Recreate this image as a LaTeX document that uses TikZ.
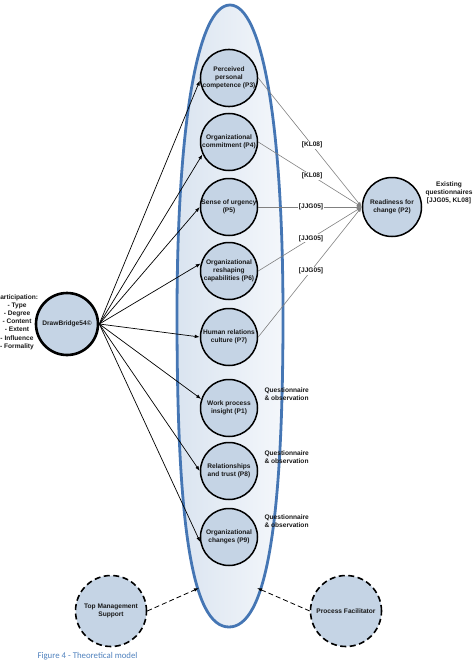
\documentclass[tikz,border=0pt]{standalone}
\usepackage{fontspec}
\setmainfont{Liberation Sans}
\newfontfamily\capfont{Carlito}
\usetikzlibrary{arrows.meta}
\definecolor{ovalblue}{HTML}{4576B4}
\definecolor{circfill}{HTML}{C5D4E5}
\definecolor{ovalL}{HTML}{DAE4F0}
\definecolor{ovalR}{HTML}{F4F7FB}
\definecolor{capblue}{HTML}{4F81BD}
\definecolor{linegray}{HTML}{808080}
\begin{document}
\begin{tikzpicture}[x=1pt,y=-1pt,
  every node/.style={font=\fontsize{6.6}{7.8}\selectfont\bfseries, align=center, text=black!90},
  pnode/.style={circle, draw=black, line width=1.5pt, fill=circfill, minimum size=57pt, inner sep=0pt},
  bignode/.style={circle, draw=black, line width=2.6pt, fill=circfill, minimum size=62pt, inner sep=0pt},
  dashnode/.style={circle, draw=black, line width=1.6pt, dash pattern=on 6pt off 3.5pt, fill=circfill, minimum size=71pt, inner sep=0pt},
  blackarr/.style={draw=black, line width=0.7pt, -{Latex[length=5pt,width=3.6pt]}},
  grayarr/.style={draw=linegray, line width=0.6pt, -{Latex[length=5pt,width=4pt]}},
  dasharr/.style={draw=black, line width=0.8pt, dash pattern=on 5pt off 3pt, -{Latex[length=5pt,width=3.6pt]}},
  lbl/.style={fill=white, inner sep=1pt},
  sidetxt/.style={align=left, anchor=west, font=\fontsize{6.6}{8}\selectfont\bfseries}
]
\useasboundingbox (0,0) rectangle (473,661);

% big oval
\path[draw=ovalblue, line width=2.8pt, left color=ovalL, right color=ovalR]
  (230,5) .. controls (262,5) and (283,123) .. (283,316)
  .. controls (283,525) and (266,627) .. (229,627)
  .. controls (192,627) and (177,525) .. (177,316)
  .. controls (177,123) and (198,5) .. (230,5) -- cycle;

% inner concept circles
\node[pnode] (P3) at (229,78) {Perceived\\personal\\competence (P3)};
\node[pnode] (P4) at (229,142) {Organizational\\commitment (P4)};
\node[pnode] (P5) at (229,207) {Sense of urgency\\(P5)};
\node[pnode] (P6) at (229,271) {Organizational\\reshaping\\capabilities (P6)};
\node[pnode] (P7) at (229,337) {Human relations\\culture (P7)};
\node[pnode] (P1) at (229,408) {Work process\\insight (P1)};
\node[pnode] (P8) at (229,471) {Relationships\\and trust (P8)};
\node[pnode] (P9) at (229,537) {Organizational\\changes (P9)};

% readiness
\node[pnode, minimum size=59pt] (R) at (392,207) {Readiness for\\change (P2)};
\node (EQ) at (449,193) {Existing\\questionnaires\\{[JJG05, KL08]}};

% DrawBridge
\node[bignode] (D) at (67,324) {DrawBridge54©};
\node[font=\fontsize{6.6}{8.2}\selectfont\bfseries] (PT) at (17,322) {Participation:\\- Type\\- Degree\\- Content\\- Extent\\- Influence\\- Formality};

% bottom dashed
\node[dashnode] (TM) at (111,611) {Top Management\\Support};
\node[dashnode] (PF) at (346,611) {Process Facilitator};
\coordinate (TMend) at (199,588);
\coordinate (PFend) at (257,588);

% arrows from DrawBridge
\draw[blackarr] (D.east) -- (P3.185);
\draw[blackarr] (D.east) -- (P4.205);
\draw[blackarr] (D.east) -- (P5.180);
\draw[blackarr] (D.east) -- (P6.165);
\draw[blackarr] (D.east) -- (P7.180);
\draw[blackarr] (D.east) -- (P1.162);
\draw[blackarr] (D.east) -- (P8.180);
\draw[blackarr] (D.east) -- (P9.190);

% arrows to readiness
\draw[grayarr] (P3.east) -- node[lbl, pos=0.52] {[KL08]} (R.west);
\draw[grayarr] (P4.east) -- node[lbl, pos=0.52] {[KL08]} (R.west);
\draw[grayarr] (P5.east) -- node[lbl, pos=0.51] {[JJG05]} (R.west);
\draw[grayarr] (P6.east) -- node[lbl, pos=0.51] {[JJG05]} (R.west);
\draw[grayarr] (P7.east) -- node[lbl, pos=0.51] {[JJG05]} (R.west);

% questionnaire labels
\node[sidetxt] (Q1) at (261,394) {Questionnaire\\\& observation};
\node[sidetxt] (Q2) at (261,457) {Questionnaire\\\& observation};
\node[sidetxt] (Q3) at (261,521) {Questionnaire\\\& observation};

% dashed arrows
\draw[dasharr] (TM.east) -- (TMend);
\draw[dasharr] (PF.west) -- (PFend);

% caption
\node[anchor=west, font=\capfont\fontsize{8.8}{10}\selectfont, text=capblue] (CAP) at (34,656) {Figure 4 - Theoretical model};
\end{tikzpicture}
\end{document}
